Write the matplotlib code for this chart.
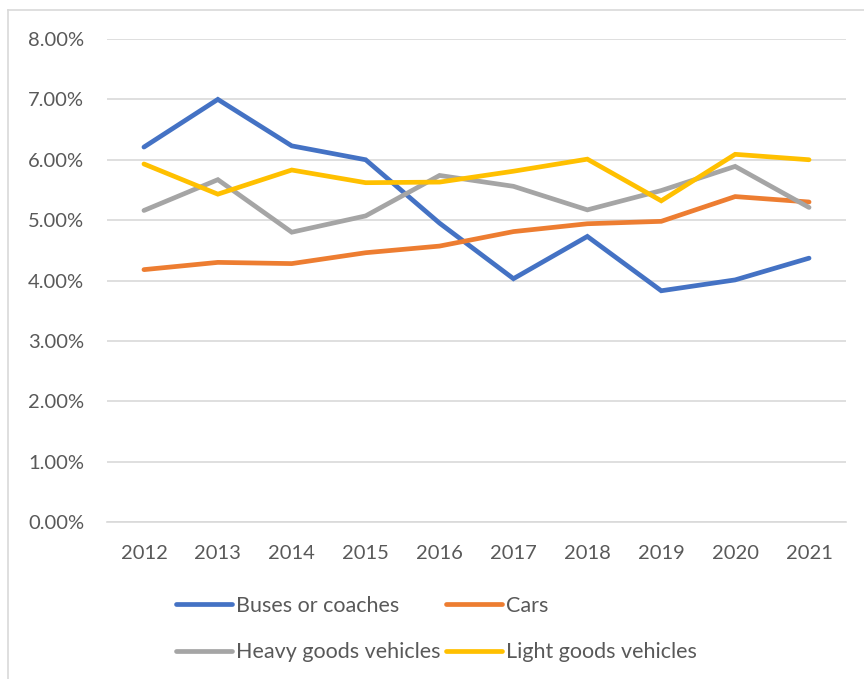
import matplotlib.pyplot as plt
from matplotlib.lines import Line2D
from matplotlib.ticker import FuncFormatter

years = ["2012", "2013", "2014", "2015", "2016", "2017", "2018", "2019", "2020", "2021"]
buses = [6.21, 7.00, 6.23, 6.00, 4.95, 4.03, 4.73, 3.83, 4.01, 4.37]
cars = [4.18, 4.30, 4.28, 4.46, 4.57, 4.81, 4.94, 4.98, 5.39, 5.30]
heavy = [5.16, 5.67, 4.80, 5.07, 5.74, 5.56, 5.17, 5.49, 5.89, 5.21]
light = [5.93, 5.43, 5.83, 5.62, 5.63, 5.81, 6.01, 5.32, 6.09, 6.00]

series = [
    ("Buses or coaches", buses, "#4472C4"),
    ("Cars", cars, "#ED7D31"),
    ("Heavy goods vehicles", heavy, "#A5A5A5"),
    ("Light goods vehicles", light, "#FFC000"),
]

plt.rcParams['font.family'] = ['Lato', 'DejaVu Sans']
text_col = "#595959"
grid_col = "#D9D9D9"

fig = plt.figure(figsize=(8.64, 6.79), dpi=100)
ax = fig.add_axes([107 / 864, 1 - 522 / 679, (846 - 107) / 864, (522 - 39) / 679])

x = list(range(len(years)))
lines = {}
for name, vals, col in series:
    ln, = ax.plot(x, vals, color=col, lw=3.4, solid_capstyle="round",
                  solid_joinstyle="miter", label=name)
    lines[name] = ln

ax.set_xlim(-0.5, len(years) - 0.5)
ax.set_ylim(0, 8)
ax.set_yticks(range(0, 9))
ax.yaxis.set_major_formatter(FuncFormatter(lambda v, p: f"{v:.2f}%"))
ax.set_xticks(x)
ax.set_xticklabels(years)
ax.grid(axis="y", color=grid_col, lw=1.2)
ax.set_axisbelow(True)
for s in ["top", "right", "left"]:
    ax.spines[s].set_visible(False)
ax.spines["bottom"].set_color(grid_col)
ax.spines["bottom"].set_linewidth(1.2)
ax.tick_params(length=0, labelsize=14.5, colors=text_col)
ax.tick_params(axis="x", pad=16.5)
ax.tick_params(axis="y", pad=16.5)

# legend laid out column-first: two rows of two entries
order = ["Buses or coaches", "Heavy goods vehicles", "Cars", "Light goods vehicles"]
leg = fig.legend([lines[n] for n in order], order, ncol=2, frameon=False,
                 loc="center left", bbox_to_anchor=(157 / 864, 1 - 629 / 679),
                 fontsize=15.5, labelcolor=text_col, handlelength=2.6,
                 handletextpad=0.19, columnspacing=0.23, labelspacing=1.22)

# thin chart frame along the top and left
fig.add_artist(Line2D([8 / 864, 1], [1 - 9.5 / 679] * 2, color=grid_col, lw=1.2))
fig.add_artist(Line2D([8 / 864] * 2, [0, 1 - 9.5 / 679], color=grid_col, lw=1.2))

fig.savefig("out.png", dpi=100)
